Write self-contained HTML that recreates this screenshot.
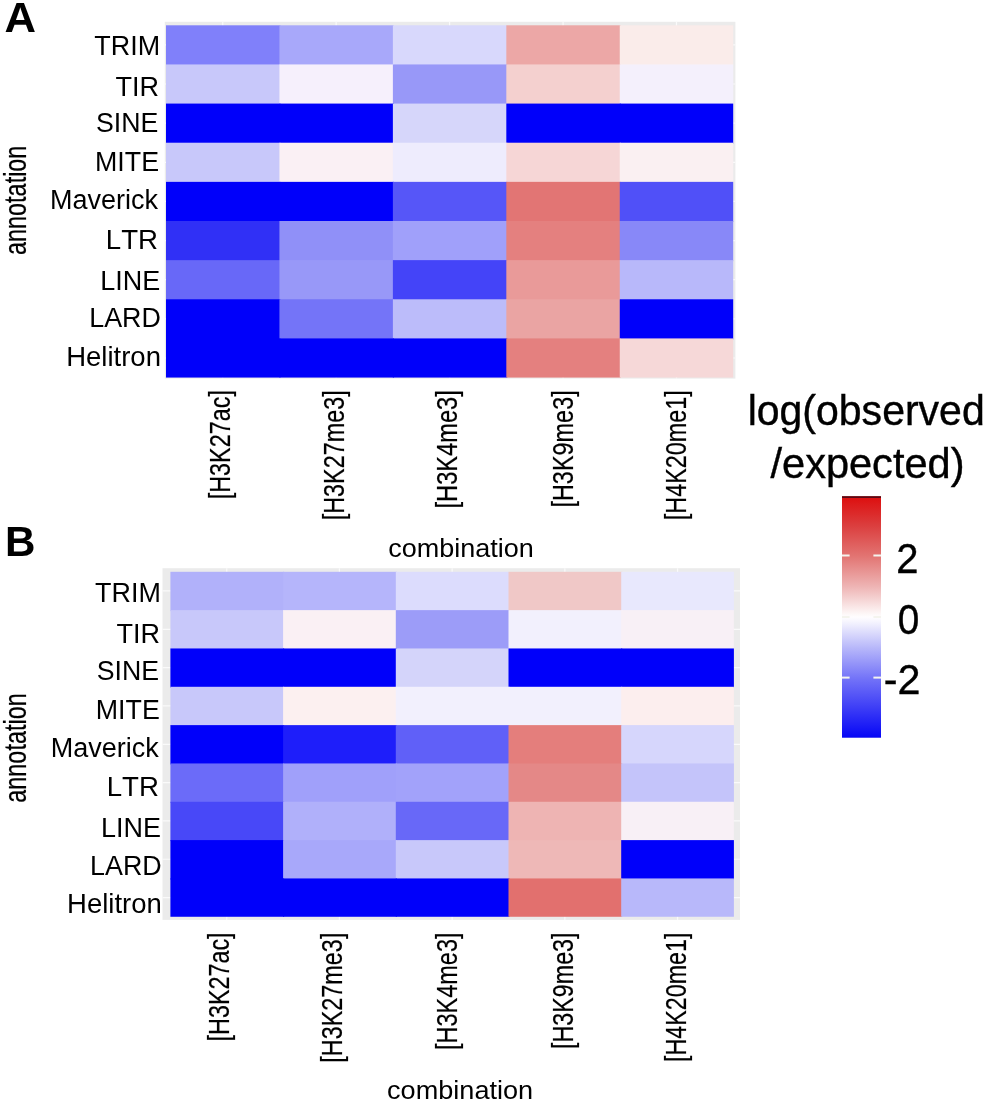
<!DOCTYPE html>
<html lang="en">
<head>
<meta charset="utf-8">
<title>Heatmap of log(observed/expected) by annotation and combination</title>
<style>
html,body{margin:0;padding:0;background:#fff;}
body{width:986px;height:1103px;overflow:hidden;}
svg{display:block;}
svg text{font-family:"Liberation Sans", sans-serif;fill:#000;font-kerning:none;}
svg text.hv{stroke:#000;stroke-width:0.4px;}
svg text.lt{stroke:#000;stroke-width:0.2px;}
</style>
</head>
<body>
<svg width="986" height="1103" viewBox="0 0 986 1103">
<defs>
<linearGradient id="lg" x1="0" y1="0" x2="0" y2="1">
<stop offset="0.0005" stop-color="#dd0e0e"/>
<stop offset="0.1206" stop-color="#db3e3e"/>
<stop offset="0.2470" stop-color="#e27472"/>
<stop offset="0.3734" stop-color="#eeb4b4"/>
<stop offset="0.4846" stop-color="#fdf6f6"/>
<stop offset="0.4998" stop-color="#fffdff"/>
<stop offset="0.5188" stop-color="#f6f5fe"/>
<stop offset="0.6262" stop-color="#b8b8fa"/>
<stop offset="0.7526" stop-color="#7474f8"/>
<stop offset="0.8790" stop-color="#3c3cf6"/>
<stop offset="0.9953" stop-color="#0808f6"/>
<stop offset="1.0000" stop-color="#0000ee"/>
</linearGradient>
</defs>
<rect x="0" y="0" width="986" height="1103" fill="#ffffff"/>
<rect x="164.8" y="21.8" width="570.60" height="356.80" fill="#ebebeb"/>
<line x1="222.72" y1="21.8" x2="222.72" y2="378.6" stroke="#fafafa" stroke-width="1.2"/>
<line x1="336.16" y1="21.8" x2="336.16" y2="378.6" stroke="#fafafa" stroke-width="1.2"/>
<line x1="449.60" y1="21.8" x2="449.60" y2="378.6" stroke="#fafafa" stroke-width="1.2"/>
<line x1="563.04" y1="21.8" x2="563.04" y2="378.6" stroke="#fafafa" stroke-width="1.2"/>
<line x1="676.48" y1="21.8" x2="676.48" y2="378.6" stroke="#fafafa" stroke-width="1.2"/>
<line x1="164.8" y1="44.87" x2="735.4" y2="44.87" stroke="#fafafa" stroke-width="1.2"/>
<line x1="164.8" y1="84.01" x2="735.4" y2="84.01" stroke="#fafafa" stroke-width="1.2"/>
<line x1="164.8" y1="123.15" x2="735.4" y2="123.15" stroke="#fafafa" stroke-width="1.2"/>
<line x1="164.8" y1="162.29" x2="735.4" y2="162.29" stroke="#fafafa" stroke-width="1.2"/>
<line x1="164.8" y1="201.43" x2="735.4" y2="201.43" stroke="#fafafa" stroke-width="1.2"/>
<line x1="164.8" y1="240.57" x2="735.4" y2="240.57" stroke="#fafafa" stroke-width="1.2"/>
<line x1="164.8" y1="279.71" x2="735.4" y2="279.71" stroke="#fafafa" stroke-width="1.2"/>
<line x1="164.8" y1="318.85" x2="735.4" y2="318.85" stroke="#fafafa" stroke-width="1.2"/>
<line x1="164.8" y1="357.99" x2="735.4" y2="357.99" stroke="#fafafa" stroke-width="1.2"/>
<rect x="166.00" y="25.30" width="114.44" height="40.14" fill="#8080fa"/>
<rect x="279.44" y="25.30" width="114.44" height="40.14" fill="#a8a8fa"/>
<rect x="392.88" y="25.30" width="114.44" height="40.14" fill="#d8d8fc"/>
<rect x="506.32" y="25.30" width="114.44" height="40.14" fill="#eca7a6"/>
<rect x="619.76" y="25.30" width="113.44" height="40.14" fill="#faecea"/>
<rect x="166.00" y="64.44" width="114.44" height="40.14" fill="#c8c8fa"/>
<rect x="279.44" y="64.44" width="114.44" height="40.14" fill="#f6f0fc"/>
<rect x="392.88" y="64.44" width="114.44" height="40.14" fill="#9898f8"/>
<rect x="506.32" y="64.44" width="114.44" height="40.14" fill="#f4d0cf"/>
<rect x="619.76" y="64.44" width="113.44" height="40.14" fill="#f4f0fc"/>
<rect x="166.00" y="103.58" width="114.44" height="40.14" fill="#0000fa"/>
<rect x="279.44" y="103.58" width="114.44" height="40.14" fill="#0000fa"/>
<rect x="392.88" y="103.58" width="114.44" height="40.14" fill="#d6d6fa"/>
<rect x="506.32" y="103.58" width="114.44" height="40.14" fill="#0000fa"/>
<rect x="619.76" y="103.58" width="113.44" height="40.14" fill="#0000fa"/>
<rect x="166.00" y="142.72" width="114.44" height="40.14" fill="#c8c8fa"/>
<rect x="279.44" y="142.72" width="114.44" height="40.14" fill="#faf0f4"/>
<rect x="392.88" y="142.72" width="114.44" height="40.14" fill="#eeecfd"/>
<rect x="506.32" y="142.72" width="114.44" height="40.14" fill="#f6d6d6"/>
<rect x="619.76" y="142.72" width="113.44" height="40.14" fill="#faf0f2"/>
<rect x="166.00" y="181.86" width="114.44" height="40.14" fill="#0000fa"/>
<rect x="279.44" y="181.86" width="114.44" height="40.14" fill="#0000fa"/>
<rect x="392.88" y="181.86" width="114.44" height="40.14" fill="#5656f8"/>
<rect x="506.32" y="181.86" width="114.44" height="40.14" fill="#e27574"/>
<rect x="619.76" y="181.86" width="113.44" height="40.14" fill="#5050f8"/>
<rect x="166.00" y="221.00" width="114.44" height="40.14" fill="#3030f6"/>
<rect x="279.44" y="221.00" width="114.44" height="40.14" fill="#9090f8"/>
<rect x="392.88" y="221.00" width="114.44" height="40.14" fill="#a0a0fa"/>
<rect x="506.32" y="221.00" width="114.44" height="40.14" fill="#e4807f"/>
<rect x="619.76" y="221.00" width="113.44" height="40.14" fill="#8888f8"/>
<rect x="166.00" y="260.14" width="114.44" height="40.14" fill="#6868f8"/>
<rect x="279.44" y="260.14" width="114.44" height="40.14" fill="#9898f8"/>
<rect x="392.88" y="260.14" width="114.44" height="40.14" fill="#4444f8"/>
<rect x="506.32" y="260.14" width="114.44" height="40.14" fill="#e99a99"/>
<rect x="619.76" y="260.14" width="113.44" height="40.14" fill="#b8b8fa"/>
<rect x="166.00" y="299.28" width="114.44" height="40.14" fill="#0000fa"/>
<rect x="279.44" y="299.28" width="114.44" height="40.14" fill="#7474f8"/>
<rect x="392.88" y="299.28" width="114.44" height="40.14" fill="#bcbcfa"/>
<rect x="506.32" y="299.28" width="114.44" height="40.14" fill="#eaa4a3"/>
<rect x="619.76" y="299.28" width="113.44" height="40.14" fill="#0000fa"/>
<rect x="166.00" y="338.42" width="114.44" height="39.14" fill="#0000fa"/>
<rect x="279.44" y="338.42" width="114.44" height="39.14" fill="#0000fa"/>
<rect x="392.88" y="338.42" width="114.44" height="39.14" fill="#0000fa"/>
<rect x="506.32" y="338.42" width="114.44" height="39.14" fill="#e4807f"/>
<rect x="619.76" y="338.42" width="113.44" height="39.14" fill="#f6d8d8"/>
<rect x="162.5" y="568.2" width="577.50" height="351.70" fill="#ebebeb"/>
<line x1="226.75" y1="568.2" x2="226.75" y2="919.9" stroke="#fafafa" stroke-width="1.2"/>
<line x1="339.45" y1="568.2" x2="339.45" y2="919.9" stroke="#fafafa" stroke-width="1.2"/>
<line x1="452.15" y1="568.2" x2="452.15" y2="919.9" stroke="#fafafa" stroke-width="1.2"/>
<line x1="564.85" y1="568.2" x2="564.85" y2="919.9" stroke="#fafafa" stroke-width="1.2"/>
<line x1="677.55" y1="568.2" x2="677.55" y2="919.9" stroke="#fafafa" stroke-width="1.2"/>
<line x1="162.5" y1="590.96" x2="740.0" y2="590.96" stroke="#fafafa" stroke-width="1.2"/>
<line x1="162.5" y1="629.29" x2="740.0" y2="629.29" stroke="#fafafa" stroke-width="1.2"/>
<line x1="162.5" y1="667.62" x2="740.0" y2="667.62" stroke="#fafafa" stroke-width="1.2"/>
<line x1="162.5" y1="705.95" x2="740.0" y2="705.95" stroke="#fafafa" stroke-width="1.2"/>
<line x1="162.5" y1="744.28" x2="740.0" y2="744.28" stroke="#fafafa" stroke-width="1.2"/>
<line x1="162.5" y1="782.62" x2="740.0" y2="782.62" stroke="#fafafa" stroke-width="1.2"/>
<line x1="162.5" y1="820.94" x2="740.0" y2="820.94" stroke="#fafafa" stroke-width="1.2"/>
<line x1="162.5" y1="859.27" x2="740.0" y2="859.27" stroke="#fafafa" stroke-width="1.2"/>
<line x1="162.5" y1="897.61" x2="740.0" y2="897.61" stroke="#fafafa" stroke-width="1.2"/>
<rect x="170.40" y="571.80" width="113.70" height="39.33" fill="#b1b1fa"/>
<rect x="283.10" y="571.80" width="113.70" height="39.33" fill="#b5b5fb"/>
<rect x="395.80" y="571.80" width="113.70" height="39.33" fill="#dcdcfd"/>
<rect x="508.50" y="571.80" width="113.70" height="39.33" fill="#f0c8c7"/>
<rect x="621.20" y="571.80" width="112.70" height="39.33" fill="#e8e8fd"/>
<rect x="170.40" y="610.13" width="113.70" height="39.33" fill="#c8c8fa"/>
<rect x="283.10" y="610.13" width="113.70" height="39.33" fill="#faf0f4"/>
<rect x="395.80" y="610.13" width="113.70" height="39.33" fill="#9c9cf8"/>
<rect x="508.50" y="610.13" width="113.70" height="39.33" fill="#f2f0fd"/>
<rect x="621.20" y="610.13" width="112.70" height="39.33" fill="#f8f0f6"/>
<rect x="170.40" y="648.46" width="113.70" height="39.33" fill="#0000fa"/>
<rect x="283.10" y="648.46" width="113.70" height="39.33" fill="#0000fa"/>
<rect x="395.80" y="648.46" width="113.70" height="39.33" fill="#d4d4fa"/>
<rect x="508.50" y="648.46" width="113.70" height="39.33" fill="#0000fa"/>
<rect x="621.20" y="648.46" width="112.70" height="39.33" fill="#0000fa"/>
<rect x="170.40" y="686.79" width="113.70" height="39.33" fill="#c8c8fa"/>
<rect x="283.10" y="686.79" width="113.70" height="39.33" fill="#fcf0f0"/>
<rect x="395.80" y="686.79" width="113.70" height="39.33" fill="#f2f0fd"/>
<rect x="508.50" y="686.79" width="113.70" height="39.33" fill="#f2f0fd"/>
<rect x="621.20" y="686.79" width="112.70" height="39.33" fill="#fceeee"/>
<rect x="170.40" y="725.12" width="113.70" height="39.33" fill="#0000fa"/>
<rect x="283.10" y="725.12" width="113.70" height="39.33" fill="#1e1efa"/>
<rect x="395.80" y="725.12" width="113.70" height="39.33" fill="#6060f8"/>
<rect x="508.50" y="725.12" width="113.70" height="39.33" fill="#e47e7c"/>
<rect x="621.20" y="725.12" width="112.70" height="39.33" fill="#d6d6fc"/>
<rect x="170.40" y="763.45" width="113.70" height="39.33" fill="#6b6bf9"/>
<rect x="283.10" y="763.45" width="113.70" height="39.33" fill="#a0a0fa"/>
<rect x="395.80" y="763.45" width="113.70" height="39.33" fill="#a2a2fa"/>
<rect x="508.50" y="763.45" width="113.70" height="39.33" fill="#e48887"/>
<rect x="621.20" y="763.45" width="112.70" height="39.33" fill="#c4c4fa"/>
<rect x="170.40" y="801.78" width="113.70" height="39.33" fill="#4848f8"/>
<rect x="283.10" y="801.78" width="113.70" height="39.33" fill="#b0b0fa"/>
<rect x="395.80" y="801.78" width="113.70" height="39.33" fill="#6868f8"/>
<rect x="508.50" y="801.78" width="113.70" height="39.33" fill="#eeb4b3"/>
<rect x="621.20" y="801.78" width="112.70" height="39.33" fill="#f8f0f6"/>
<rect x="170.40" y="840.11" width="113.70" height="39.33" fill="#0000fa"/>
<rect x="283.10" y="840.11" width="113.70" height="39.33" fill="#a8a8fa"/>
<rect x="395.80" y="840.11" width="113.70" height="39.33" fill="#c8c8fa"/>
<rect x="508.50" y="840.11" width="113.70" height="39.33" fill="#eeb8b7"/>
<rect x="621.20" y="840.11" width="112.70" height="39.33" fill="#0000fa"/>
<rect x="170.40" y="878.44" width="113.70" height="38.33" fill="#0000fa"/>
<rect x="283.10" y="878.44" width="113.70" height="38.33" fill="#0000fa"/>
<rect x="395.80" y="878.44" width="113.70" height="38.33" fill="#0000fa"/>
<rect x="508.50" y="878.44" width="113.70" height="38.33" fill="#e2706e"/>
<rect x="621.20" y="878.44" width="112.70" height="38.33" fill="#b8b8fa"/>
<text transform="translate(4.51,32.30) scale(1.0083,1.0)" font-size="43.31" text-anchor="start" font-weight="bold">A</text>
<text transform="translate(4.88,556.20) scale(0.9861,1.0)" font-size="42.73" text-anchor="start" font-weight="bold">B</text>
<text transform="translate(94.30,55.10) scale(0.9793,1.0)" font-size="27.5" text-anchor="start" font-weight="normal">TRIM</text>
<text transform="translate(95.10,602.30) scale(0.9793,1.0)" font-size="27.5" text-anchor="start" font-weight="normal">TRIM</text>
<text transform="translate(115.59,95.50) scale(0.9834,1.0)" font-size="27.5" text-anchor="start" font-weight="normal">TIR</text>
<text transform="translate(116.39,642.70) scale(0.9834,1.0)" font-size="27.5" text-anchor="start" font-weight="normal">TIR</text>
<text transform="translate(95.99,132.30) scale(0.9716,1.0)" font-size="27.5" text-anchor="start" font-weight="normal">SINE</text>
<text transform="translate(96.79,679.50) scale(0.9716,1.0)" font-size="27.5" text-anchor="start" font-weight="normal">SINE</text>
<text transform="translate(95.00,171.40) scale(0.9751,1.0)" font-size="27.5" text-anchor="start" font-weight="normal">MITE</text>
<text transform="translate(95.80,718.60) scale(0.9751,1.0)" font-size="27.5" text-anchor="start" font-weight="normal">MITE</text>
<text transform="translate(49.88,209.40) scale(0.9824,1.0)" font-size="27.5" text-anchor="start" font-weight="normal">Maverick</text>
<text transform="translate(50.68,756.60) scale(0.9824,1.0)" font-size="27.5" text-anchor="start" font-weight="normal">Maverick</text>
<text transform="translate(105.83,248.60) scale(1.0058,1.0)" font-size="27.5" text-anchor="start" font-weight="normal">LTR</text>
<text transform="translate(106.63,795.80) scale(1.0058,1.0)" font-size="27.5" text-anchor="start" font-weight="normal">LTR</text>
<text transform="translate(100.19,289.80) scale(0.981,1.0)" font-size="27.5" text-anchor="start" font-weight="normal">LINE</text>
<text transform="translate(100.99,837.00) scale(0.981,1.0)" font-size="27.5" text-anchor="start" font-weight="normal">LINE</text>
<text transform="translate(89.30,327.40) scale(0.9759,1.0)" font-size="27.5" text-anchor="start" font-weight="normal">LARD</text>
<text transform="translate(90.10,874.60) scale(0.9759,1.0)" font-size="27.5" text-anchor="start" font-weight="normal">LARD</text>
<text transform="translate(66.24,365.90) scale(0.9998,1.0)" font-size="27.5" text-anchor="start" font-weight="normal">Helitron</text>
<text transform="translate(67.04,913.10) scale(0.9998,1.0)" font-size="27.5" text-anchor="start" font-weight="normal">Helitron</text>
<text class="lt" transform="translate(25.80,255.00) rotate(-90) scale(0.7556,1.0)" font-size="31.0" text-anchor="start" font-weight="normal">annotation</text>
<text class="lt" transform="translate(25.80,802.70) rotate(-90) scale(0.7556,1.0)" font-size="31.0" text-anchor="start" font-weight="normal">annotation</text>
<text class="lt" transform="translate(230.30,499.27) rotate(-90) scale(0.7798,1.0)" font-size="30.0" text-anchor="start" font-weight="normal">[H3K27ac]</text>
<text class="lt" transform="translate(228.70,1041.47) rotate(-90) scale(0.7791,1.0)" font-size="30.0" text-anchor="start" font-weight="normal">[H3K27ac]</text>
<text class="lt" transform="translate(344.00,520.27) rotate(-90) scale(0.7798,1.0)" font-size="30.0" text-anchor="start" font-weight="normal">[H3K27me3]</text>
<text class="lt" transform="translate(342.30,1062.67) rotate(-90) scale(0.7804,1.0)" font-size="30.0" text-anchor="start" font-weight="normal">[H3K27me3]</text>
<text class="lt" transform="translate(457.20,508.49) rotate(-90) scale(0.7881,1.0)" font-size="30.0" text-anchor="start" font-weight="normal">[H3K4me3]</text>
<text class="lt" transform="translate(457.20,1050.08) rotate(-90) scale(0.784,1.0)" font-size="30.0" text-anchor="start" font-weight="normal">[H3K4me3]</text>
<text class="lt" transform="translate(573.00,507.57) rotate(-90) scale(0.7819,1.0)" font-size="30.0" text-anchor="start" font-weight="normal">[H3K9me3]</text>
<text class="lt" transform="translate(573.00,1049.06) rotate(-90) scale(0.7771,1.0)" font-size="30.0" text-anchor="start" font-weight="normal">[H3K9me3]</text>
<text class="lt" transform="translate(686.30,520.17) rotate(-90) scale(0.7792,1.0)" font-size="30.0" text-anchor="start" font-weight="normal">[H4K20me1]</text>
<text class="lt" transform="translate(685.80,1062.06) rotate(-90) scale(0.7773,1.0)" font-size="30.0" text-anchor="start" font-weight="normal">[H4K20me1]</text>
<text transform="translate(388.15,557.30) scale(1.0191,1.0)" font-size="26.5" text-anchor="start" font-weight="normal">combination</text>
<text transform="translate(387.05,1098.70) scale(1.0226,1.0)" font-size="26.5" text-anchor="start" font-weight="normal">combination</text>
<text class="hv" transform="translate(747.64,424.90) scale(0.9495,1.0)" font-size="43.2" text-anchor="start" font-weight="normal">log(observed</text>
<text class="hv" transform="translate(770.50,477.90) scale(0.9617,1.0)" font-size="43.2" text-anchor="start" font-weight="normal">/expected)</text>
<rect x="842.0" y="496.4" width="39.0" height="241.3" fill="url(#lg)"/>
<rect x="842.0" y="496.2" width="39.0" height="1.8" fill="#5a0a14"/>
<rect x="842.0" y="554.5" width="7.6" height="2" fill="#f4f4ee"/>
<rect x="873.4" y="554.5" width="7.6" height="2" fill="#f4f4ee"/>
<rect x="842.0" y="616.0" width="7.6" height="2" fill="#f4f4ee"/>
<rect x="873.4" y="616.0" width="7.6" height="2" fill="#f4f4ee"/>
<rect x="842.0" y="676.6" width="7.6" height="2" fill="#f4f4ee"/>
<rect x="873.4" y="676.6" width="7.6" height="2" fill="#f4f4ee"/>
<text class="hv" transform="translate(896.29,572.50) scale(0.9203,1.0)" font-size="43.41" text-anchor="start" font-weight="normal">2</text>
<text class="hv" transform="translate(897.69,634.40) scale(0.8915,1.0)" font-size="43.41" text-anchor="start" font-weight="normal">0</text>
<text class="hv" transform="translate(883.77,693.60) scale(0.9511,1.0)" font-size="43.41" text-anchor="start" font-weight="normal">-2</text>
</svg>
</body>
</html>
